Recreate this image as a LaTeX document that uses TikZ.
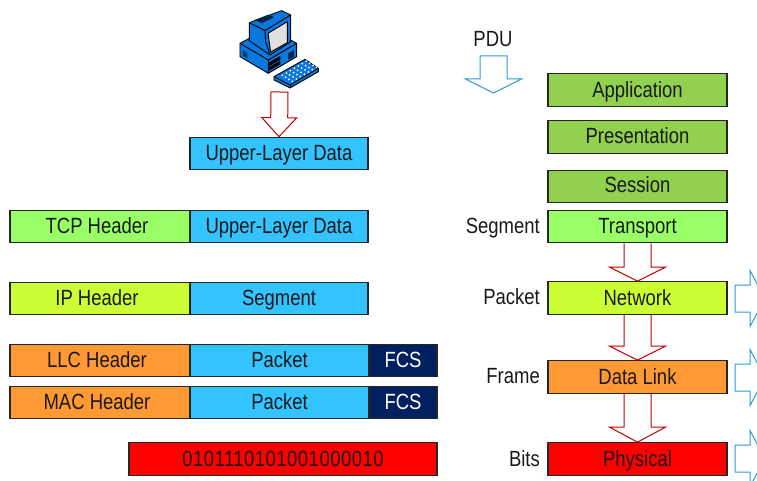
\documentclass[tikz,border=0pt]{standalone}
\usepackage{fontspec}
\setmainfont[FakeStretch=0.84]{Liberation Sans}
\usetikzlibrary{calc}
\definecolor{cblue}{HTML}{33C3FF}
\definecolor{cgreen}{HTML}{99FF66}
\definecolor{clime}{HTML}{CCFF33}
\definecolor{corange}{HTML}{FF9933}
\definecolor{cnavy}{HTML}{002060}
\definecolor{cappl}{HTML}{92D050}
\definecolor{credline}{HTML}{C00000}
\definecolor{cblueline}{HTML}{2E9BD0}
\definecolor{cpc}{HTML}{0A78DC}
\tikzset{
lay/.style={draw=black!85, line width=1.2pt, inner sep=0pt, minimum height=32.5pt, text height=16pt, text depth=2pt, font=\fontsize{22}{22}\selectfont, text=black!90},
hdr/.style={lay, minimum width=180pt, execute at end node={\hspace*{6pt}}},
lab/.style={inner sep=0pt, text height=16pt, text depth=2pt, font=\fontsize{22}{22}\selectfont, text=black!90},
blockarrow/.style n args={3}{to path={($(\tikztostart)!#1!90:(\tikztotarget)$) -- ($(\tikztotarget)!#3!(\tikztostart)!#1!90:(\tikztotarget)$) -- ($(\tikztotarget)!#3!(\tikztostart)!#2!90:(\tikztotarget)$) -- (\tikztotarget) -- ($(\tikztotarget)!#3!(\tikztostart)!#2!-90:(\tikztotarget)$) -- ($(\tikztotarget)!#3!(\tikztostart)!#1!-90:(\tikztotarget)$) -- ($(\tikztostart)!#1!-90:(\tikztotarget)$)}},
pcpart/.style={draw=black, line width=0.9pt, line join=round, fill=cpc}
}
\begin{document}
\begin{tikzpicture}[x=1pt,y=-1pt]
\clip (0,0) rectangle (757,481);
\node[lay, fill=cblue, minimum width=178pt] (upper) at (279,153.5){Upper-Layer Data};
\node[hdr, fill=cgreen] (tcp) at (100,226.5){TCP Header};
\node[lay, fill=cblue, minimum width=178pt] (tcpdata) at (279,226.5){Upper-Layer Data};
\node[hdr, fill=clime] (ip) at (100,298.5){IP Header};
\node[lay, fill=cblue, minimum width=178pt] (ipseg) at (279,298.5){Segment};
\node[hdr, fill=corange] (llc) at (100,360.5){LLC Header};
\node[lay, fill=cblue, minimum width=179pt] (llcpkt) at (279.5,360.5){Packet};
\node[lay, fill=cnavy, minimum width=68pt, text=white] (llcfcs) at (403,360.5){FCS};
\node[hdr, fill=corange] (mac) at (100,402.5){MAC Header};
\node[lay, fill=cblue, minimum width=179pt] (macpkt) at (279.5,402.5){Packet};
\node[lay, fill=cnavy, minimum width=68pt, text=white] (macfcs) at (403,402.5){FCS};
\node[lay, fill=red, minimum width=308pt, text depth=1pt] (bits) at (283,459){\addfontfeature{LetterSpace=2.2}0101110101001000010};
\node[lay, fill=cappl, minimum width=179pt, text depth=1pt] (appl) at (637.5,90){Application};
\node[lay, fill=cappl, minimum width=179pt, text depth=3pt] (pres) at (637.5,137){Presentation};
\node[lay, fill=cappl, minimum width=179pt, text depth=3pt] (sess) at (637.5,186.5){Session};
\node[lay, fill=cgreen, minimum width=179pt] (trans) at (637.5,226.5){Transport};
\node[lay, fill=clime, minimum width=179pt] (netw) at (637.5,298){Network};
\node[lay, fill=corange, minimum width=179pt] (link) at (637.5,377){Data Link};
\node[lay, fill=red, minimum width=179pt] (phys) at (637.5,459){Physical};
\node[lab] (pdu) at (493,40){PDU};
\node[lab, anchor=east] (lseg) at (540,226){Segment};
\node[lab, anchor=east] (lpkt) at (540,297.5){Packet};
\node[lab, anchor=east] (lfrm) at (540,376){Frame};
\node[lab, anchor=east] (lbit) at (540,459){Bits};
\coordinate (pctail) at (279.5,92);
\coordinate (pdutail) at (493.5,56);
\coordinate (pduhead) at (493.5,93);
\coordinate (nettail) at (735,298.5);
\coordinate (nethead) at (765,298.5);
\coordinate (linktail) at (735,377.5);
\coordinate (linkhead) at (765,377.5);
\coordinate (phystail) at (735,458.5);
\coordinate (physhead) at (765,458.5);
\draw[credline, line width=1pt, blockarrow={8.5pt}{17.5pt}{19pt}] (pctail) to (upper.north) -- cycle;
\draw[credline, line width=1pt, blockarrow={13.5pt}{28pt}{14pt}] (trans.south) to (netw.north);
\draw[credline, line width=1pt, blockarrow={13.5pt}{28pt}{14pt}] (netw.south) to (link.north);
\draw[credline, line width=1pt, blockarrow={13.5pt}{28pt}{15pt}] (link.south) to (phys.north);
\draw[cblueline, line width=1pt, blockarrow={13.5pt}{28pt}{14pt}] (pdutail) to (pduhead) -- cycle;
\draw[cblueline, line width=1pt, blockarrow={13.5pt}{28pt}{15pt}] (nettail) to (nethead) -- cycle;
\draw[cblueline, line width=1pt, blockarrow={13.5pt}{28pt}{15pt}] (linktail) to (linkhead) -- cycle;
\draw[cblueline, line width=1pt, blockarrow={13.5pt}{28pt}{15pt}] (phystail) to (physhead) -- cycle;
\begin{scope}[shift={(200,0)}, x=0.3333pt, y=-0.3333pt]
\draw[pcpart] (120,130) -- (205,85) -- (290,130) -- (290,170) -- (205,220) -- (120,170) -- cycle;
\draw[pcpart] (120,130) -- (205,180) -- (290,130);
\draw[pcpart] (205,180) -- (205,220);
\draw[pcpart, fill=black] (205,190) -- (240,170) -- (240,178) -- (205,198) -- cycle;
\draw[pcpart, fill=black] (205,204) -- (240,184) -- (240,192) -- (205,212) -- cycle;
\draw[pcpart, fill=black!70!cpc, draw=none] (265,160) -- (282,150) -- (282,170) -- (265,180) -- cycle;
\draw[pcpart, fill=black!50!cpc, draw=none] (128,150) -- (142,158) -- (142,175) -- (128,167) -- cycle;
\draw[pcpart] (148,68) -- (245,32) -- (272,45) -- (272,125) -- (210,165) -- (148,122) -- cycle;
\draw[pcpart] (148,68) -- (195,92) -- (272,45);
\draw[pcpart] (195,92) -- (197,125) -- (210,165);
\draw[pcpart, fill=black!70!cpc, draw=none] (165,60) -- (205,44) -- (222,52) -- (185,70) -- cycle;
\draw[pcpart, fill=black!12] (204,100) -- (262,65) -- (262,128) -- (212,156) -- cycle;
\draw[pcpart] (222,230) -- (315,178) -- (355,205) -- (355,215) -- (270,264) -- (222,240) -- cycle;
\draw[pcpart] (222,230) -- (270,255) -- (355,205);
\draw[pcpart] (270,255) -- (270,264);
\foreach \i in {0,...,6}{
\foreach \j in {0,...,3}{
\fill[white] (247+\i*12+\j*10,226-\i*7+\j*6) circle (3);
}}
\end{scope}
\end{tikzpicture}
\end{document}
